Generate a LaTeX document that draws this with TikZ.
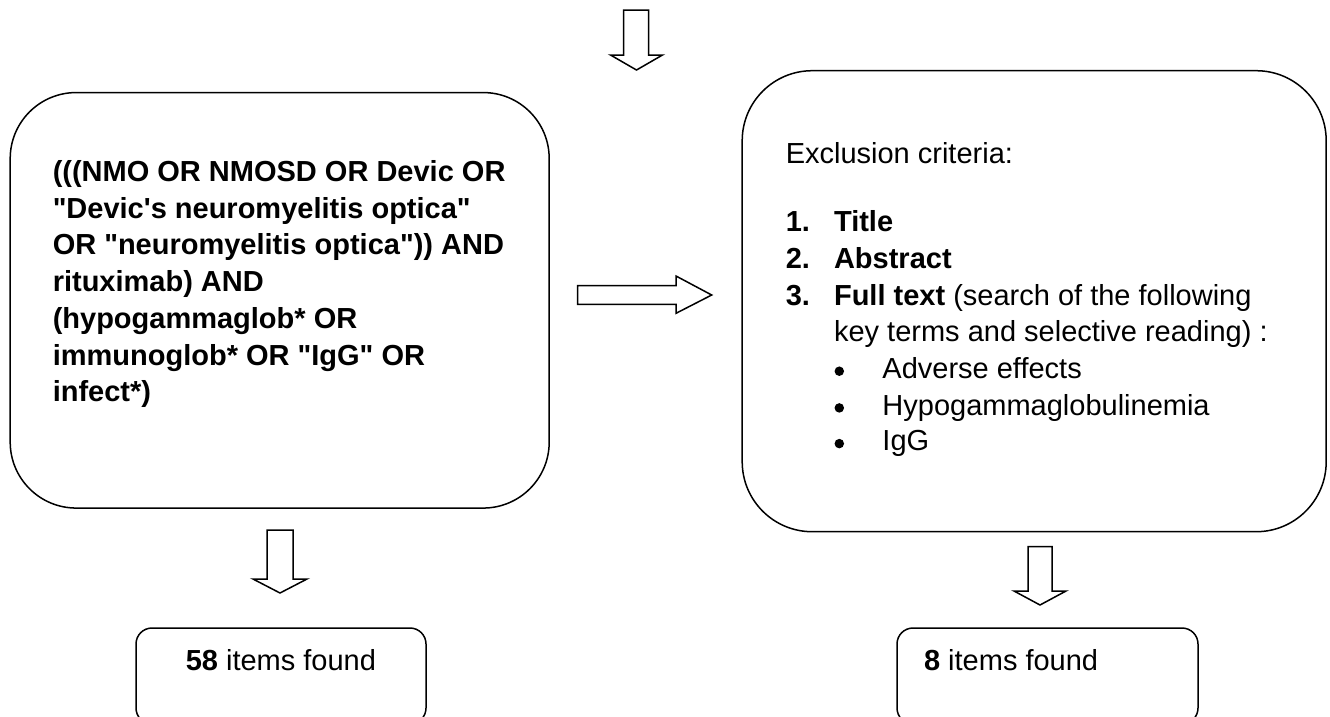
\documentclass[tikz,border=0pt]{standalone}
\usepackage{fontspec}
\setmainfont{Liberation Sans}[Ligatures=TeXOff]
\begin{document}
\begin{tikzpicture}[x=1pt,y=-1pt,line width=1.5pt,
  bigbox/.style={draw, rectangle, rounded corners=66pt, inner sep=0pt},
  smallbox/.style={draw, rectangle, rounded corners=16pt, inner sep=0pt},
  txt/.style={anchor=base west, inner sep=0pt, font=\fontsize{29}{36.7}\selectfont},
  btxt/.style={txt, font=\fontsize{29}{36.7}\selectfont\bfseries},
  dot/.style={circle, fill=black, draw=none, inner sep=0pt, minimum size=9.5pt},
  blockarrow/.style={draw, line width=1.5pt, line join=miter, fill=white}]
\useasboundingbox (0,0) rectangle (1330,716);
\clip (0,0) rectangle (1330,716);

% boxes
\node[bigbox, minimum width=539pt, minimum height=415.5pt] (query) at (279.7,300.3) {};
\node[bigbox, rounded corners=70pt, minimum width=584pt, minimum height=461pt] (excl) at (1034.2,301.2) {};
\node[smallbox, minimum width=290pt, minimum height=96pt] (found58) at (281,676) {};
\node[smallbox, minimum width=301pt, minimum height=96pt] (found8) at (1047.5,676) {};

% arrows
\draw[blockarrow] (623.5,10) -- (648.5,10) -- (648.5,55) -- (662.5,55) -- (636.5,70)
  -- (610.5,55) -- (623.5,55) -- cycle;
\draw[blockarrow] (577.7,285.7) -- (676,285.7) -- (676,276) -- (711.7,295) -- (676,313.3)
  -- (676,304.3) -- (577.7,304.3) -- cycle;
\draw[blockarrow] (267,530) -- (293,530) -- (293,579) -- (307,579) -- (280,593)
  -- (253,579) -- (267,579) -- cycle;
\draw[blockarrow] (1028,546.7) -- (1052,546.7) -- (1052,591) -- (1066,591) -- (1040,605)
  -- (1014,591) -- (1028,591) -- cycle;

% query text
\node[btxt] (q1) at (52,181.5) {(((NMO OR NMOSD OR Devic OR};
\node[btxt] (q2) at (52,218.2) {"Devic's neuromyelitis optica"};
\node[btxt] (q3) at (52,254.9) {OR "neuromyelitis optica")) AND};
\node[btxt] (q4) at (52,291.6) {rituximab) AND};
\node[btxt] (q5) at (52,328.3) {(hypogammaglob* OR};
\node[btxt] (q6) at (52,365.0) {immunoglob* OR "IgG" OR};
\node[btxt] (q7) at (52,401.7) {infect*)};

% exclusion text
\node[txt] (e0) at (785,163.3) {Exclusion criteria:};
\node[btxt] (n1) at (785,231.7) {1.};
\node[btxt] (e1) at (833.3,231.7) {Title};
\node[btxt] (n2) at (785,268.3) {2.};
\node[btxt] (e2) at (833.3,268.3) {Abstract};
\node[btxt] (n3) at (785,305.0) {3.};
\node[txt] (e3) at (833.3,305.0) {\textbf{Full text} (search of the following};
\node[txt] (e4) at (833.3,341.7) {key terms and selective reading) :};
\node[dot] (b1) at (839.3,371.2) {};
\node[txt] (e5) at (881.7,378.3) {Adverse effects};
\node[dot] (b2) at (839.3,407.9) {};
\node[txt] (e6) at (881.7,415.0) {Hypogammaglobulinemia};
\node[dot] (b3) at (839.3,443.6) {};
\node[txt] (e7) at (881.7,450.7) {IgG};

% results
\node[txt] (r1) at (185,670) {\textbf{58} items found};
\node[txt] (r2) at (923.3,670) {\textbf{8} items found};
\end{tikzpicture}
\end{document}
